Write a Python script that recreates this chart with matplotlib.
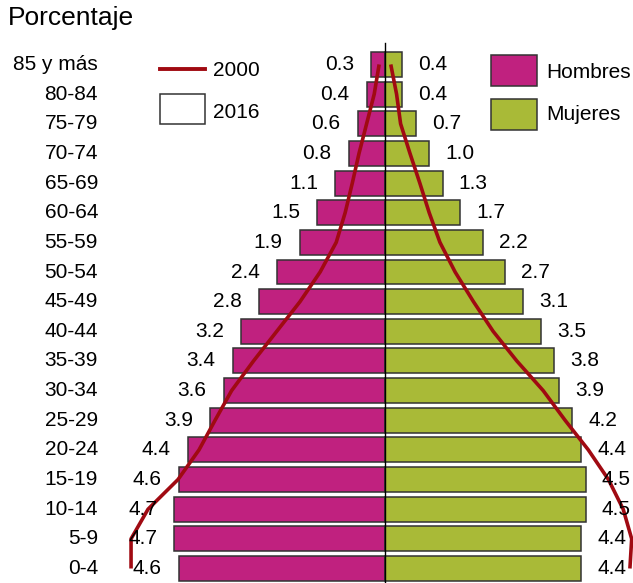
import matplotlib
matplotlib.use("Agg")
import matplotlib.pyplot as plt
from matplotlib.patches import Rectangle
from matplotlib.lines import Line2D

plt.rcParams['font.family'] = ['Liberation Sans', 'DejaVu Sans']

age_groups = ["0-4", "5-9", "10-14", "15-19", "20-24", "25-29", "30-34", "35-39",
              "40-44", "45-49", "50-54", "55-59", "60-64", "65-69", "70-74",
              "75-79", "80-84", "85 y más"]
men_2016 = [4.6, 4.7, 4.7, 4.6, 4.4, 3.9, 3.6, 3.4, 3.2, 2.8, 2.4, 1.9, 1.5, 1.1, 0.8, 0.6, 0.4, 0.3]
women_2016 = [4.4, 4.4, 4.5, 4.5, 4.4, 4.2, 3.9, 3.8, 3.5, 3.1, 2.7, 2.2, 1.7, 1.3, 1.0, 0.7, 0.4, 0.4]
men_2000 = [5.67, 5.67, 5.29, 4.62, 4.15, 3.79, 3.42, 2.93, 2.41, 1.89, 1.44, 1.08, 0.88, 0.72, 0.57, 0.40, 0.23, 0.12]
women_2000 = [5.49, 5.53, 5.34, 5.01, 4.56, 4.04, 3.55, 2.96, 2.43, 1.99, 1.58, 1.24, 1.00, 0.79, 0.57, 0.36, 0.27, 0.14]

col_men = "#C0217F"
col_women = "#A9BA37"
col_line = "#A00A12"
edge = "#333333"

W, H = 633, 583
fig = plt.figure(figsize=(W / 100, H / 100), dpi=100)
ax = fig.add_axes([0, 0, 1, 1])
ax.set_axis_off()

cx = 384.5
ppu = 44.7
y0 = 568.5
step = 29.65
ax.set_xlim(-cx / ppu, (W - cx) / ppu)
ax.set_ylim(-(H - y0) / step, y0 / step)

ys = list(range(len(age_groups)))
ax.barh(ys, [-v for v in men_2016], height=0.84, color=col_men, edgecolor=edge, linewidth=1.1, zorder=2)
ax.barh(ys, women_2016, height=0.84, color=col_women, edgecolor=edge, linewidth=1.1, zorder=2)

ax.plot([0, 0], [-0.6, (y0 - 43) / step], color="black", lw=1.0, zorder=3)

ax.plot([-v for v in men_2000], ys, color=col_line, lw=2.6, zorder=4, solid_capstyle='butt')
ax.plot(women_2000, ys, color=col_line, lw=2.6, zorder=4, solid_capstyle='butt')

fs = 15
for y, m, w in zip(ys, men_2016, women_2016):
    ax.text(-m - 17 / ppu, y, f"{m:.1f}", ha="right", va="center", fontsize=fs, zorder=5)
    ax.text(w + 16 / ppu, y, f"{w:.1f}", ha="left", va="center", fontsize=fs, zorder=5)

xl = -(cx - 98) / ppu
for y, lab in zip(ys, age_groups):
    ax.text(xl, y, lab, ha="right", va="center", fontsize=fs)

# Title
fig.text(8 / W, 1 - 18 / H, "Porcentaje", ha="left", va="center", fontsize=19)

# Legends (figure pixel coords)
def px(x, y):
    return x / W, 1 - y / H

fig.add_artist(Line2D([160 / W, 205 / W], [1 - 69 / H, 1 - 69 / H], color=col_line, lw=2.8))
fig.text(*px(213, 71), "2000", ha="left", va="center", fontsize=fs)
fig.add_artist(Rectangle(px(160, 124), 45 / W, 30 / H, facecolor="white", edgecolor=edge, lw=1.1))
fig.text(*px(213, 113), "2016", ha="left", va="center", fontsize=fs)

fig.add_artist(Rectangle(px(491, 86), 45.5 / W, 31 / H, facecolor=col_men, edgecolor=edge, lw=1.1))
fig.text(*px(546, 72), "Hombres", ha="left", va="center", fontsize=fs)
fig.add_artist(Rectangle(px(491, 130), 45.5 / W, 31 / H, facecolor=col_women, edgecolor=edge, lw=1.1))
fig.text(*px(546, 114), "Mujeres", ha="left", va="center", fontsize=fs)

fig.savefig("out.png", dpi=100)
